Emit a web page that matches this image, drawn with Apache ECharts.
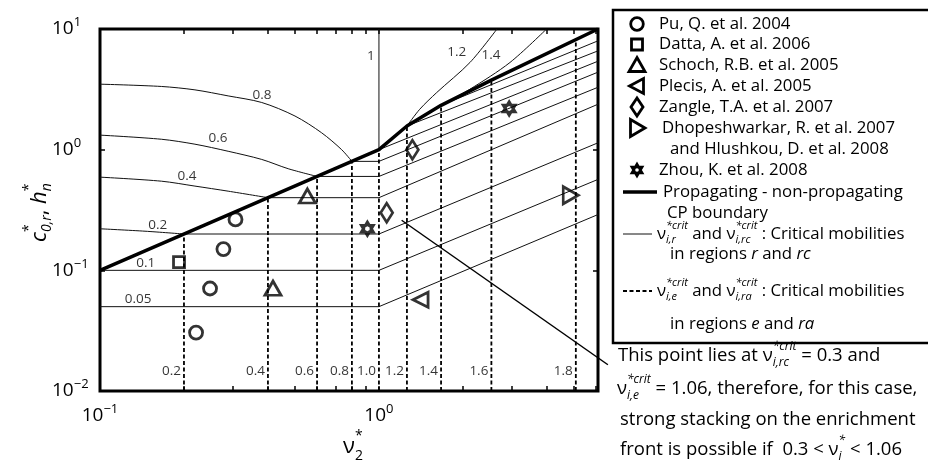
<!DOCTYPE html>
<html>
<head>
<meta charset="utf-8">
<title>Critical mobilities</title>
<script src="https://cdn.jsdelivr.net/npm/echarts@6.0.0/dist/echarts.min.js"></script>
<style>
  html, body { margin: 0; padding: 0; background: #fff; }
  #chart { width: 928px; height: 467px; }
</style>
</head>
<body>
<div id="chart"></div>
<script>
// axis extents and ticks
const xMin = 0.1, xMax = 6.1, yMin = 0.01, yMax = 10;
const xTickValues = [0.1, 0.2, 0.3, 0.4, 0.5, 0.6, 0.7, 0.8, 0.9, 1, 2, 3, 4, 5, 6];
const xLabelValues = [0.1, 1];
const yTickValues = [0.01, 0.1, 1, 10];

// propagating - non-propagating CP boundary
const boundary = [[0.1, 0.1], [1, 1], [1.26, 1.57], [1.67, 2.33], [2.53, 3.77], [6.1, 10]];

// thin solid lines: critical mobilities in regions r and rc (curved part / straight part)
const r005 = [[0.1, 0.05], [1, 0.05], [6.1, 0.29]];
const r01 = [[0.1, 0.1], [1, 0.1], [6.1, 0.567]];
const r02c = [[0.1, 0.221], [0.145, 0.211], [0.2, 0.2]];
const r02 = [[0.2, 0.2], [1, 0.2], [6.1, 1.14]];
const r04c = [[0.1, 0.592], [0.166, 0.548], [0.219, 0.499], [0.288, 0.453], [0.4, 0.4]];
const r04 = [[0.4, 0.4], [1, 0.4], [6.1, 2.38]];
const r06c = [[0.1, 1.32], [0.166, 1.22], [0.219, 1.11], [0.288, 0.97], [0.38, 0.83], [0.473, 0.695], [0.6, 0.6]];
const r06 = [[0.6, 0.6], [1, 0.6], [6.1, 3.29]];
const r08c = [[0.1, 3.49], [0.166, 3.34], [0.219, 3.13], [0.288, 2.79], [0.38, 2.46], [0.5, 1.9], [0.623, 1.38], [0.735, 1.0], [0.8, 0.8]];
const r08 = [[0.8, 0.8], [1, 0.8], [6.1, 4.39]];
const r10 = [[1, 10], [1, 1], [6.1, 5.41]];
const r12c = [[1.26, 1.57], [1.4, 2.16], [1.61, 2.97], [2.12, 5.28], [2.65, 10]];
const r12 = [[1.26, 1.57], [6.1, 6.59]];
const r14c = [[1.67, 2.33], [2.12, 3.17], [2.95, 5.28], [3.99, 10]];
const r14 = [[1.67, 2.33], [6.1, 7.98]];
const curveLabels = ['0.05', '0.1', '0.2', '0.4', '0.6', '0.8', '1', '1.2', '1.4'];
const curveLabelX = [0.137, 0.146, 0.161, 0.205, 0.265, 0.381, 0.936, 1.9, 2.52];
const curveLabelY = [0.0577, 0.115, 0.238, 0.6, 1.25, 2.83, 5.99, 6.39, 6.05];

// dashed lines: critical mobilities in regions e and ra
const eLabels = ['0.2', '0.4', '0.6', '0.8', '1.0', '1.2', '1.4', '1.6', '1.8'];
const eLineX = [0.2, 0.4, 0.6, 0.8, 1, 1.26, 1.67, 2.53, 5.08];
const eLineTop = [0.2, 0.4, 0.6, 0.8, 1, 1.57, 2.33, 3.77, 8.15];
const eLabelY = 0.0145;

// experimental points
const puQ = [[0.306, 0.264], [0.277, 0.150], [0.248, 0.0707], [0.221, 0.0305]];
const dattaA = [[0.192, 0.117]];
const schochRB = [[0.554, 0.413], [0.417, 0.0711]];
const plecisA = [[1.41, 0.0571]];
const zangleTA = [[1.318, 1.0], [1.066, 0.30]];
const dhopeshwarkarR = [[4.87, 0.419]];
const zhouK = [[2.93, 2.19], [0.909, 0.221]];
// pointer from the (1.066, 0.30) diamond to the note on the right
const callout = [[1.206, 0.26], [6.62, 0.0165]];

const FF = '"Open Sans", "DejaVu Sans", sans-serif';
const STAR = 'path://M0,-10L2.887,-5L8.66,-5L5.774,0L8.66,5L2.887,5L0,10L-2.887,5L-8.66,5L-5.774,0L-8.66,-5L-2.887,-5Z' +
  'M0,-2.6L-2.25,-1.3L-2.25,1.3L0,2.6L2.25,1.3L2.25,-1.3Z';

// plot box in pixels
const G = { left: 100, top: 29, width: 498, height: 362 };
// a second, hidden grid that is wider, so the pointer can run past the frame
const decadePx = G.width / Math.log10(xMax / xMin);
const xWideMax = xMin * Math.pow(10, (G.width + 40) / decadePx);

function fnt(s, it) { return (it ? 'italic ' : '') + s + 'px ' + FF; }
const mctx = document.createElement('canvas').getContext('2d');
function tw(t, s, it) { mctx.font = fnt(s, it); return mctx.measureText(t).width; }

// lays text pieces out left to right; "stack" puts a piece under the previous one (sub under sup)
function run(x, y, parts) {
  const els = [];
  let cx = x, baseX = x;
  parts.forEach(p => {
    const px = p.stack ? baseX : cx;
    els.push({
      type: 'text', x: px, y: y + (p.dy || 0), z: 100, silent: true,
      style: { text: p.t, font: fnt(p.s, p.i), fill: '#000', align: 'left', verticalAlign: 'middle', textAlign: 'left', textVerticalAlign: 'middle' }
    });
    const w = tw(p.t, p.s, p.i);
    if (p.stack) cx = Math.max(cx, px + w); else { baseX = px; cx = px + w; }
  });
  return els;
}
function nu(sup, sub, s) {
  const ss = Math.round(s * 0.66);
  return [{ t: '\u03bd', s: s }, { t: sup, s: ss, i: true, dy: -s * 0.5 }, { t: sub, s: ss, i: true, dy: s * 0.33, stack: true }];
}

function powLabel(v) {
  const l = Math.log10(v), e = Math.round(l);
  if (Math.abs(l - e) > 1e-6) return '';
  return '{b|10}{s|' + (e < 0 ? '\u2212' + (-e) : e) + '}';
}
const tickRich = {
  b: { fontFamily: FF, fontSize: 19, color: '#000', lineHeight: 26 },
  s: { fontFamily: FF, fontSize: 13, color: '#000', lineHeight: 12, verticalAlign: 'top' }
};
const tickStyle = { inside: true, length: 5, lineStyle: { color: '#000', width: 1.5 } };

function lineSeries(data, extra) {
  return Object.assign({
    type: 'line', data: data, symbol: 'none', silent: true, z: 2,
    lineStyle: { color: '#111', width: 1 }
  }, extra || {});
}
function markerSeries(name, data, symbol, size, extra) {
  return Object.assign({
    name: name, type: 'scatter', data: data, symbol: symbol, symbolSize: size, silent: true, z: 6,
    itemStyle: { color: 'rgba(0,0,0,0)', borderColor: '#000', borderWidth: 2.8 }
  }, extra || {});
}

const series = [];
[r005, r01, r02, r04, r06, r08, r10, r12, r14].forEach(d => series.push(lineSeries(d)));
[r02c, r04c, r06c, r08c, r12c, r14c].forEach(d => series.push(lineSeries(d, { smooth: 0.3 })));
eLineX.forEach((x, i) => series.push(lineSeries([[x, yMin], [x, eLineTop[i]]], {
  z: 3, lineStyle: { color: '#000', width: 1.8, type: [4, 2.5] }
})));
series.push(lineSeries(boundary, { z: 4, lineStyle: { color: '#000', width: 3.5 } }));
series.push(lineSeries(callout, { z: 4, xAxisIndex: 2, yAxisIndex: 2, clip: false, lineStyle: { color: '#000', width: 1.5 } }));
series.push({
  type: 'scatter', silent: true, symbolSize: 0, z: 7,
  data: curveLabels.map((t, i) => ({ name: t, value: [curveLabelX[i], curveLabelY[i]] })),
  label: { show: true, position: 'inside', formatter: '{b}', fontFamily: FF, fontSize: 13.5, color: '#000' }
});
series.push({
  type: 'scatter', silent: true, symbolSize: 0, z: 7,
  data: eLabels.map((t, i) => ({ name: t, value: [eLineX[i], eLabelY] })),
  label: { show: true, position: 'left', distance: 3, formatter: '{b}', fontFamily: FF, fontSize: 13.5, color: '#000' }
});
series.push(markerSeries('Pu', puQ, 'circle', 13));
series.push(markerSeries('Datta', dattaA, 'rect', 11));
series.push(markerSeries('Schoch', schochRB, 'triangle', [16, 14]));
series.push(markerSeries('Plecis', plecisA, 'triangle', [15, 15], { symbolRotate: 90 }));
series.push(markerSeries('Zangle', zangleTA, 'diamond', [12, 19]));
series.push(markerSeries('Dhopeshwarkar', dhopeshwarkarR, 'triangle', [17, 15], { symbolRotate: -90 }));
series.push(markerSeries('Zhou', zhouK, STAR, [17, 19], { itemStyle: { color: '#000' } }));

// legend box, drawn as graphics
const graphic = [];
graphic.push({ type: 'rect', z: 99, silent: true, shape: { x: 613, y: 10, width: 330, height: 333 }, style: { fill: '#fff', stroke: '#000', lineWidth: 2.5 } });
const LX = 637, TX = 659, LF = 16.8, NF = 18.5;
const hollow = { fill: 'none', stroke: '#000', lineWidth: 2.8 };
function icon(kind, cy) {
  const c = LX;
  if (kind === 'circle') return [{ type: 'circle', shape: { cx: c, cy: cy, r: 6.3 }, style: hollow }];
  if (kind === 'rect') return [{ type: 'rect', shape: { x: c - 5.5, y: cy - 5.5, width: 11, height: 11 }, style: hollow }];
  if (kind === 'up') return [{ type: 'polygon', shape: { points: [[c, cy - 7.5], [c + 8, cy + 6.5], [c - 8, cy + 6.5]] }, style: hollow }];
  if (kind === 'left') return [{ type: 'polygon', shape: { points: [[c - 7.5, cy], [c + 6.5, cy - 7.5], [c + 6.5, cy + 7.5]] }, style: hollow }];
  if (kind === 'diamond') return [{ type: 'polygon', shape: { points: [[c, cy - 9], [c + 6, cy], [c, cy + 9], [c - 6, cy]] }, style: hollow }];
  if (kind === 'right') return [{ type: 'polygon', shape: { points: [[c + 8, cy], [c - 6.5, cy - 8.5], [c - 6.5, cy + 8.5]] }, style: hollow }];
  // six-pointed star with a small white centre
  const pts = [];
  for (let k = 0; k < 12; k++) {
    const a = (-90 + 30 * k) * Math.PI / 180, r = k % 2 ? 4.9 : 8.5;
    pts.push([c + r * Math.cos(a), cy + r * Math.sin(a)]);
  }
  return [{ type: 'polygon', shape: { points: pts }, style: { fill: '#000' } },
    { type: 'circle', shape: { cx: c, cy: cy, r: 1.8 }, style: { fill: '#fff' } }];
}
const legendKinds = ['circle', 'rect', 'up', 'left', 'diamond', 'right', 'star'];
const legendNames = ['Pu, Q. et al. 2004', 'Datta, A. et al. 2006', 'Schoch, R.B. et al. 2005', 'Plecis, A. et al. 2005',
  'Zangle, T.A. et al. 2007', 'Dhopeshwarkar, R. et al. 2007', 'Zhou, K. et al. 2008'];
const legendY = [24, 44.5, 65, 86, 107, 128, 170];
legendKinds.forEach((k, i) => {
  icon(k, legendY[i]).forEach((el, j) => { el.z = 100 + j; el.silent = true; graphic.push(el); });
  graphic.push(...run(k === 'right' ? 662 : TX, legendY[i], [{ t: legendNames[i], s: LF }]));
});
graphic.push(...run(670, 149, [{ t: 'and Hlushkou, D. et al. 2008', s: LF }]));
graphic.push({ type: 'line', z: 100, shape: { x1: 623, y1: 192, x2: 657, y2: 192 }, style: { stroke: '#000', lineWidth: 3.5 } });
graphic.push(...run(663, 192, [{ t: 'Propagating - non-propagating', s: LF }]));
graphic.push(...run(667, 213, [{ t: 'CP boundary', s: LF }]));
graphic.push({ type: 'line', z: 100, shape: { x1: 623, y1: 234, x2: 652, y2: 234 }, style: { stroke: '#111', lineWidth: 1 } });
graphic.push(...run(657, 234, [].concat(nu('*crit', 'i,r', LF), [{ t: ' and ', s: LF }], nu('*crit', 'i,rc', LF), [{ t: ' : Critical mobilities', s: LF }])));
graphic.push(...run(670, 254, [{ t: 'in regions ', s: LF }, { t: 'r', s: LF, i: true }, { t: ' and ', s: LF }, { t: 'rc', s: LF, i: true }]));
graphic.push({ type: 'line', z: 100, shape: { x1: 623, y1: 291, x2: 652, y2: 291 }, style: { stroke: '#000', lineWidth: 1.8, lineDash: [4, 2.5] } });
graphic.push(...run(657, 291, [].concat(nu('*crit', 'i,e', LF), [{ t: ' and ', s: LF }], nu('*crit', 'i,ra', LF), [{ t: ' : Critical mobilities', s: LF }])));
graphic.push(...run(670, 324, [{ t: 'in regions ', s: LF }, { t: 'e', s: LF, i: true }, { t: ' and ', s: LF }, { t: 'ra', s: LF, i: true }]));

// note under the legend
graphic.push(...run(618, 356, [].concat([{ t: 'This point lies at ', s: NF }], nu('*crit', 'i,rc', NF), [{ t: ' = 0.3 and', s: NF }])));
graphic.push(...run(617, 389, [].concat(nu('*crit', 'i,e', NF), [{ t: ' = 1.06, therefore, for this case,', s: NF }])));
graphic.push(...run(620, 420, [{ t: 'strong stacking on the enrichment', s: NF }]));
graphic.push(...run(620, 450, [].concat([{ t: 'front is possible if  0.3 < ', s: NF }], nu('*', 'i', NF), [{ t: ' < 1.06', s: NF }])));

// axis names
graphic.push({
  type: 'group', x: 40, y: 242, rotation: Math.PI / 2, silent: true,
  children: run(0, 0, [{ t: 'c', s: 22, i: true }, { t: '*', s: 14, dy: -11 }, { t: '0,r', s: 14, i: true, dy: 7, stack: true },
    { t: ', ', s: 22 }, { t: 'h', s: 22, i: true }, { t: '*', s: 14, dy: -11 }, { t: 'n', s: 14, i: true, dy: 7, stack: true }])
});
graphic.push(...run(343, 447, [{ t: '\u03bd', s: 22 }, { t: '*', s: 14, dy: -11 }, { t: '2', s: 14, dy: 9, stack: true }]));

const chart = echarts.init(document.getElementById('chart'));
chart.setOption({
  backgroundColor: '#fff',
  animation: false,
  grid: [
    Object.assign({ show: true, borderColor: '#000', borderWidth: 3, outerBoundsMode: 'none' }, G),
    { left: G.left, top: G.top, width: G.width + 40, height: G.height, show: false, outerBoundsMode: 'none' }
  ],
  xAxis: [
    {
      type: 'log', logBase: 10, min: xMin, max: xMax, position: 'bottom',
      axisLine: { show: false }, splitLine: { show: false },
      axisTick: Object.assign({ customValues: xTickValues }, tickStyle),
      axisLabel: { customValues: xLabelValues, formatter: powLabel, margin: 12, rich: tickRich }
    },
    {
      type: 'log', logBase: 10, min: xMin, max: xMax, position: 'top',
      axisLine: { show: false }, splitLine: { show: false },
      axisTick: Object.assign({ customValues: xTickValues }, tickStyle),
      axisLabel: { show: false }
    },
    { gridIndex: 1, type: 'log', logBase: 10, min: xMin, max: xWideMax, show: false }
  ],
  yAxis: [
    {
      type: 'log', logBase: 10, min: yMin, max: yMax, position: 'left',
      axisLine: { show: false }, splitLine: { show: false },
      axisTick: Object.assign({ customValues: yTickValues }, tickStyle),
      axisLabel: { customValues: yTickValues, formatter: powLabel, margin: 48, align: 'left', rich: tickRich }
    },
    {
      type: 'log', logBase: 10, min: yMin, max: yMax, position: 'right',
      axisLine: { show: false }, splitLine: { show: false },
      axisTick: Object.assign({ customValues: yTickValues }, tickStyle),
      axisLabel: { show: false }
    },
    { gridIndex: 1, type: 'log', logBase: 10, min: yMin, max: yMax, show: false }
  ],
  series: series,
  graphic: graphic
});
</script>
</body>
</html>
